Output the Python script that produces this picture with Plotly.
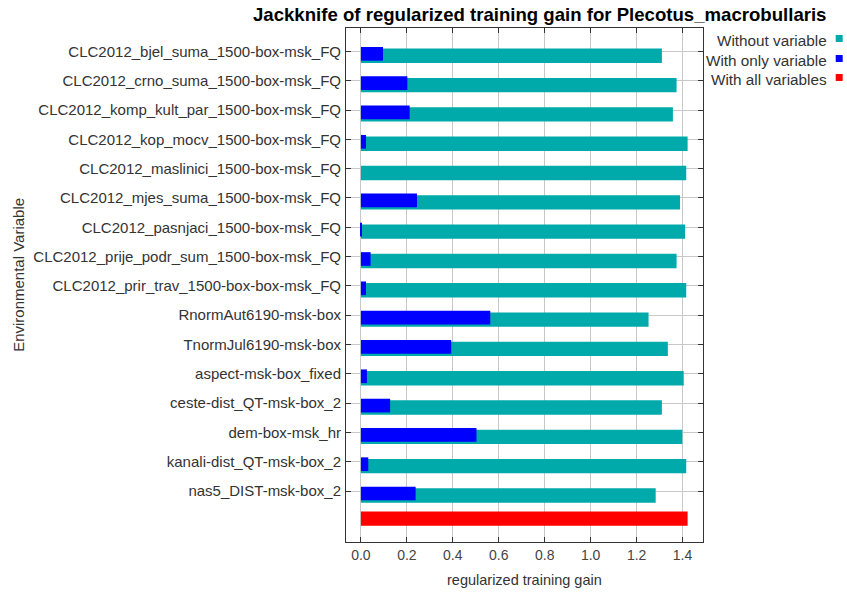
import plotly.graph_objects as go

variables = [
    "CLC2012_bjel_suma_1500-box-msk_FQ",
    "CLC2012_crno_suma_1500-box-msk_FQ",
    "CLC2012_komp_kult_par_1500-box-msk_FQ",
    "CLC2012_kop_mocv_1500-box-msk_FQ",
    "CLC2012_maslinici_1500-box-msk_FQ",
    "CLC2012_mjes_suma_1500-box-msk_FQ",
    "CLC2012_pasnjaci_1500-box-msk_FQ",
    "CLC2012_prije_podr_sum_1500-box-msk_FQ",
    "CLC2012_prir_trav_1500-box-box-msk_FQ",
    "RnormAut6190-msk-box",
    "TnormJul6190-msk-box",
    "aspect-msk-box_fixed",
    "ceste-dist_QT-msk-box_2",
    "dem-box-msk_hr",
    "kanali-dist_QT-msk-box_2",
    "nas5_DIST-msk-box_2",
]
without_variable = [1.310, 1.374, 1.358, 1.422, 1.416, 1.389, 1.411, 1.374,
                    1.416, 1.252, 1.336, 1.405, 1.310, 1.399, 1.416, 1.283]
with_only_variable = [0.096, 0.202, 0.212, 0.022, 0.0, 0.244, 0.004, 0.042,
                      0.022, 0.563, 0.393, 0.026, 0.127, 0.503, 0.032, 0.238]
with_all_variables = 1.422
x_ticks = [0.0, 0.2, 0.4, 0.6, 0.8, 1.0, 1.2, 1.4]

TEAL = "#00AAAA"
BLUE = "#0000FF"
RED = "#FF0000"
FONT = "Liberation Sans, Arial, sans-serif"

W, H = 847, 592
ML, MT = 346, 28
MR = W - 703
MB = H - 542.3
PW, PH = W - ML - MR, H - MT - MB


def px_x(x):
    return (x - ML) / PW


def px_y(y):
    return (H - MB - y) / PH


pos = list(range(len(variables)))

fig = go.Figure()
fig.add_trace(go.Bar(
    x=without_variable, y=pos, orientation="h", name="Without variable",
    marker=dict(color=TEAL, line=dict(width=0)), width=0.49, offset=-0.095,
    showlegend=False,
))
fig.add_trace(go.Bar(
    x=with_only_variable, y=pos, orientation="h", name="With only variable",
    marker=dict(color=BLUE, line=dict(width=0)), width=0.467, offset=-0.15,
    showlegend=False,
))
fig.add_trace(go.Bar(
    x=[with_all_variables], y=[len(variables)], orientation="h",
    name="With all variables",
    marker=dict(color=RED, line=dict(width=0)), width=0.488, offset=-0.306,
    showlegend=False,
))

fig.update_layout(
    width=W, height=H,
    margin=dict(l=ML, r=MR, t=MT, b=MB, autoexpand=False),
    barmode="overlay",
    plot_bgcolor="white", paper_bgcolor="white",
    font=dict(family=FONT, size=13, color="#333333"),
)

fig.update_xaxes(
    range=[-0.065, 1.489], tickvals=x_ticks,
    ticktext=[f"{v:.1f}" for v in x_ticks],
    showgrid=True, gridcolor="#C8C8C8", gridwidth=1,
    zeroline=False, automargin=False,
    showline=True, linecolor="#333333", linewidth=1, mirror="allticks",
    ticks="inside", ticklen=5, tickcolor="#333333",
    tickfont=dict(family=FONT, size=14, color="#444444"),
)
fig.update_yaxes(
    range=[16.738, -0.798], tickvals=pos, ticktext=variables,
    showgrid=True, gridcolor="#C8C8C8", gridwidth=1,
    zeroline=False, automargin=False,
    showline=True, linecolor="#333333", linewidth=1, mirror="allticks",
    ticks="inside", ticklen=5, tickcolor="#333333",
    tickfont=dict(family=FONT, size=15, color="#333333"),
    ticklabelstandoff=1,
)

# Title
fig.add_annotation(
    xref="paper", yref="paper", x=px_x(539), y=px_y(14.5),
    text="<b>Jackknife of regularized training gain for Plecotus_macrobullaris</b>",
    showarrow=False, xanchor="center", yanchor="middle", borderpad=0,
    font=dict(family=FONT, size=18.6, color="#000000"),
)
# Axis titles
fig.add_annotation(
    xref="paper", yref="paper", x=px_x(524.5), y=px_y(580.5),
    text="regularized training gain", showarrow=False,
    xanchor="center", yanchor="middle", borderpad=0,
    font=dict(family=FONT, size=14.5, color="#333333"),
)
fig.add_annotation(
    xref="paper", yref="paper", x=px_x(19), y=px_y(275),
    text="Environmental Variable", showarrow=False, textangle=-90,
    xanchor="center", yanchor="middle",
    font=dict(family=FONT, size=15, color="#333333"),
)

legend_items = [("Without variable", TEAL, 40), ("With only variable", BLUE, 60),
                ("With all variables", RED, 79)]
for label, color, ypx in legend_items:
    fig.add_annotation(
        xref="paper", yref="paper", x=px_x(829), y=px_y(ypx + 1),
        text=label, showarrow=False, xanchor="right", yanchor="middle",
        font=dict(family=FONT, size=15.3, color="#333333"),
    )
    fig.add_shape(
        type="rect", xref="paper", yref="paper",
        x0=px_x(835.7), x1=px_x(842.7),
        y0=px_y(ypx - 5), y1=px_y(ypx + 2),
        fillcolor=color, line=dict(width=0), layer="above",
    )

# place the figure at the page origin (remove the default body margin)
fig.write_html(
    "out.html",
    config={"displayModeBar": False},
    post_script="document.body.style.margin='0';document.body.style.overflow='hidden';",
)
